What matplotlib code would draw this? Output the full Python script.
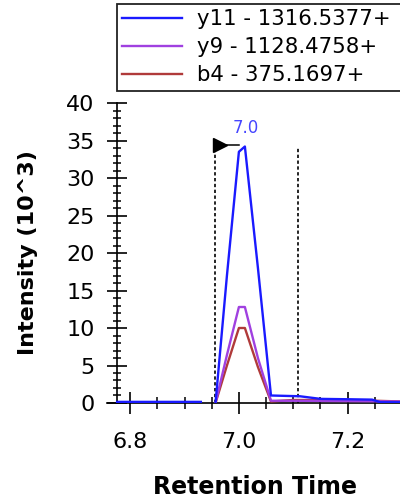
import matplotlib
matplotlib.use("Agg")
import matplotlib.pyplot as plt
import numpy as np

# data
t_y11 = [6.776, 6.80, 6.85, 6.90, 6.93, 6.94, 6.957, 6.978, 7.000, 7.011, 7.035, 7.059,
         7.085, 7.112, 7.15, 7.20, 7.245, 7.26, 7.30]
i_y11 = [0.15, 0.15, 0.15, 0.15, 0.15, np.nan, 0.0, 17.0, 33.5, 34.2, 18.0, 1.0,
         0.95, 0.9, 0.55, 0.5, 0.45, 0.1, 0.1]

t_y9 = [6.957, 6.978, 7.000, 7.011, 7.035, 7.059, 7.10, 7.20, 7.30]
i_y9 = [0.0, 6.4, 12.8, 12.8, 6.0, 0.3, 0.3, 0.25, 0.2]

t_b4 = [6.957, 6.978, 7.000, 7.011, 7.035, 7.059, 7.10, 7.20, 7.25, 7.30]
i_b4 = [0.0, 5.0, 10.0, 10.0, 4.8, 0.2, 0.4, 0.4, 0.3, 0.2]

labels = ["y11 - 1316.5377+", "y9 - 1128.4758+", "b4 - 375.1697+"]
colors = ["#1a1aff", "#a040e0", "#b03a3a"]

peak_rt = 7.0
peak_start, peak_end = 6.956, 7.109
peak_start_h, peak_end_h = 35.0, 34.0
flag_y = 34.4

plt.rcParams['font.family'] = 'DejaVu Sans'

fig = plt.figure(figsize=(4, 5.04), dpi=100)
ax = fig.add_axes([0.2675, 0.2004, 0.7325, 0.5952])

h3, = ax.plot(t_b4, i_b4, color=colors[2], lw=1.7, zorder=3)
h2, = ax.plot(t_y9, i_y9, color=colors[1], lw=1.7, zorder=4)
h1, = ax.plot(t_y11, i_y11, color=colors[0], lw=1.7, zorder=5)

# integration boundaries
ax.vlines([peak_start, peak_end], 0, [peak_start_h, peak_end_h], colors='black',
          linestyles=(0, (2, 1.5)), lw=1.2, zorder=2)
ax.plot([peak_start, peak_rt], [flag_y, flag_y], color='black', lw=1.1, zorder=6)
ax.plot([peak_start + 0.0095], [flag_y], marker='>', color='black', ms=10, zorder=6)
ax.text(peak_rt + 0.013, 36.7, f"{peak_rt:.1f}", color='#4646ff', fontsize=12,
        ha='center', va='center')

ax.set_xlim(6.7574, 7.2963)
ax.set_ylim(0, 40)

ax.spines['top'].set_visible(False)
ax.spines['right'].set_visible(False)
ax.spines['left'].set_position(('data', 6.776))
ax.spines['left'].set_bounds(0, 40)
for s in ['left', 'bottom']:
    ax.spines[s].set_linewidth(1.2)

ax.set_xticks([6.8, 7.0, 7.2])
ax.set_xticks(np.arange(6.80, 7.30, 0.05), minor=True)
ax.set_yticks(np.arange(0, 41, 5))
ax.set_yticks(np.arange(0, 41, 1), minor=True)

ax.tick_params(axis='y', which='major', direction='inout', length=14.4, width=1.2,
               labelsize=16, pad=9)
ax.tick_params(axis='y', which='minor', direction='inout', length=6.0, width=1.1)
ax.tick_params(axis='x', which='major', direction='inout', length=15.8, width=1.2,
               labelsize=16, pad=13)
ax.tick_params(axis='x', which='minor', direction='inout', length=8.6, width=1.1)

ax.set_xlabel("Retention Time", fontsize=17, fontweight='bold')
ax.set_ylabel("Intensity (10^3)", fontsize=16, fontweight='bold')
ax.xaxis.label.set_va('center')
ax.yaxis.label.set_va('center')
ax.xaxis.set_label_coords(0.505, -0.28)
ax.yaxis.set_label_coords(-0.27, 0.5)

# legend box runs past the right edge of the figure, as in the original
leg = fig.legend([h1, h2, h3], labels, loc='upper left', mode='expand',
                 bbox_to_anchor=(117 / 400, 1 - 89 / 504, 295 / 400, 85 / 504),
                 fontsize=15.3, handlelength=2.8, handletextpad=0.7, labelspacing=0.38,
                 borderpad=0.25, borderaxespad=0, fancybox=False, framealpha=1)
leg.get_frame().set_edgecolor('#222222')
leg.get_frame().set_linewidth(1.3)

fig.savefig("out.png", dpi=100, facecolor='white')
